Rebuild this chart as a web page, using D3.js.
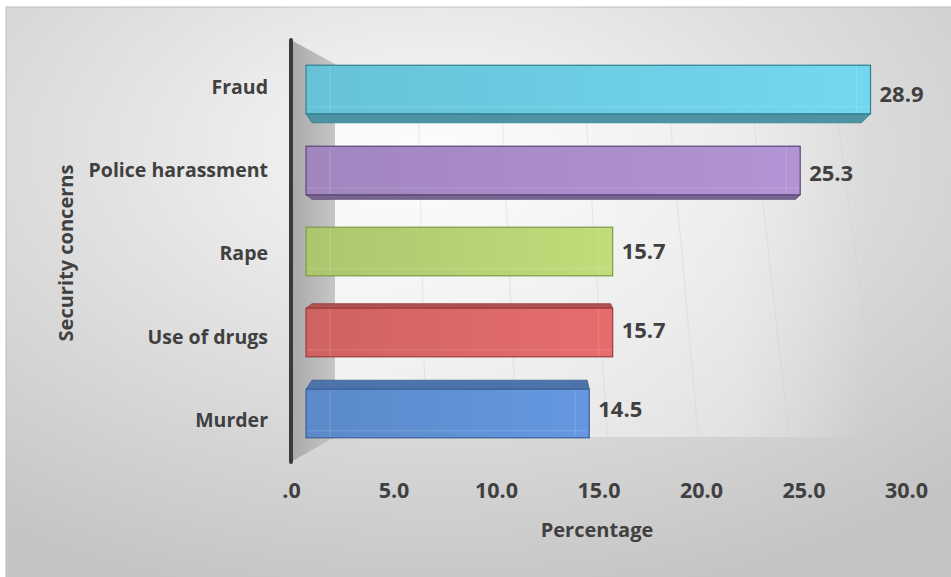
<!doctype html>
<html>
<head>
<meta charset="utf-8">
<title>Security concerns</title>
<script src="https://d3js.org/d3.v7.min.js"></script>
<style>
  body { margin: 0; background: #fff; }
  svg { display: block; }
  text { font-family: "Open Sans", Lato, sans-serif; font-weight: bold; fill: #404040; }
</style>
</head>
<body>
<svg id="chart" width="951" height="577"></svg>
<script>
  // data, top to bottom as drawn
  var categories = ["Fraud", "Police harassment", "Rape", "Use of drugs", "Murder"];
  var percentages = [28.9, 25.3, 15.7, 15.7, 14.5];
  var tickValues = [0, 5, 10, 15, 20, 25, 30];
  var tickLabels = [".0", "5.0", "10.0", "15.0", "20.0", "25.0", "30.0"];

  var faceColors = ["#6ccbe0", "#a88bc7", "#b3cf72", "#d96666", "#5f8fd2"];
  var edgeColors = ["#2f7f8f", "#5b4778", "#7f9a45", "#9c3a3a", "#3a5f98"];

  var svg = d3.select("#chart");
  var defs = svg.append("defs");

  // background
  var bg = defs.append("radialGradient").attr("id", "bg")
    .attr("cx", "45%").attr("cy", "25%").attr("r", "80%");
  bg.append("stop").attr("offset", "0%").attr("stop-color", "#f9f9f9");
  bg.append("stop").attr("offset", "100%").attr("stop-color", "#c4c4c4");
  svg.append("rect")
    .attr("x", 6).attr("y", 7).attr("width", 951).attr("height", 577)
    .attr("fill", "url(#bg)")
    .attr("stroke", "#bdbdbd").attr("stroke-width", 1);

  // scales: front of bars, axis labels, back wall
  var barX = d3.scaleLinear().domain([0, 30]).range([306, 892]);
  var axisX = d3.scaleLinear().domain([0, 30]).range([291, 906]);
  var backTop = d3.scaleLinear().domain([0, 30]).range([335, 830]);
  var backBottom = d3.scaleLinear().domain([0, 30]).range([335, 880]);

  var barY = d3.scaleBand().domain(categories).range([49, 454])
    .paddingInner(0.4).paddingOuter(0.2);
  var labelY = d3.scalePoint().domain(categories).range([86.5, 420]);

  var wallTop = 64, wallBottom = 437;

  // back wall, fading out to the right
  var bw = defs.append("linearGradient").attr("id", "backwall")
    .attr("x1", "0%").attr("x2", "100%");
  bw.append("stop").attr("offset", "0%").attr("stop-color", "#fff").attr("stop-opacity", 0.6);
  bw.append("stop").attr("offset", "75%").attr("stop-color", "#fff").attr("stop-opacity", 0.35);
  bw.append("stop").attr("offset", "100%").attr("stop-color", "#fff").attr("stop-opacity", 0);
  svg.append("rect")
    .attr("x", backTop(0)).attr("y", wallTop)
    .attr("width", backTop(30) - backTop(0) + 40).attr("height", wallBottom - wallTop)
    .attr("fill", "url(#backwall)");

  svg.append("g").selectAll("line")
    .data(tickValues.slice(1))
    .enter().append("line")
    .attr("x1", d => backTop(d)).attr("y1", wallTop)
    .attr("x2", d => backBottom(d)).attr("y2", wallBottom)
    .style("stroke", "#d2d2d2").style("stroke-width", 1.2).style("opacity", 0.4);

  // side wall
  var wg = defs.append("linearGradient").attr("id", "wall")
    .attr("x1", "0%").attr("x2", "100%");
  wg.append("stop").attr("offset", "0%").attr("stop-color", "#a9a9a9");
  wg.append("stop").attr("offset", "100%").attr("stop-color", "#c6c6c6");
  svg.append("path")
    .attr("d", "M291,40 L335," + wallTop + " L335," + wallBottom + " L291,462 Z")
    .attr("fill", "url(#wall)");
  svg.append("line")
    .attr("x1", 291).attr("x2", 291).attr("y1", 40).attr("y2", 462)
    .style("stroke", "#3a3a3a").style("stroke-width", 4)
    .style("stroke-linecap", "round");

  // bars
  svg.selectAll("g.bar")
    .data(categories)
    .enter().append("g")
    .attr("class", "bar")
    .each(function(c, i) {
      var g = d3.select(this);
      var x0 = barX(0), x1 = barX(percentages[i]);
      var y0 = barY(c), h = barY.bandwidth(), y1 = y0 + h;
      var depth = (i - 2) * 4.5;
      var base = d3.color(faceColors[i]);

      var grad = defs.append("linearGradient").attr("id", "face" + i)
        .attr("x1", "0%").attr("x2", "100%");
      grad.append("stop").attr("offset", "0%").attr("stop-color", base.darker(0.12));
      grad.append("stop").attr("offset", "100%").attr("stop-color", base.brighter(0.18));

      if (depth < 0) {
        var d = -depth;
        g.append("path")
          .attr("d", `M${x0},${y1} L${x1},${y1} L${x1 - d},${y1 + d} L${x0 + 6},${y1 + d} Z`)
          .attr("fill", base.darker(0.9))
          .attr("stroke", edgeColors[i]).attr("stroke-width", 0.8);
      } else if (depth > 0) {
        g.append("path")
          .attr("d", `M${x0},${y0} L${x1},${y0} L${x1 - 2},${y0 - depth} L${x0 + 6},${y0 - depth} Z`)
          .attr("fill", base.darker(0.6))
          .attr("stroke", edgeColors[i]).attr("stroke-width", 0.8);
      }

      g.append("rect")
        .attr("x", x0).attr("y", y0)
        .attr("width", x1 - x0).attr("height", h)
        .attr("fill", "url(#face" + i + ")")
        .attr("stroke", edgeColors[i]).attr("stroke-width", 1.2);

      // soft highlights
      g.append("line")
        .attr("x1", x0 + 24).attr("x2", x0 + 24)
        .attr("y1", y0 + 1).attr("y2", y1 - 1)
        .style("stroke", "#ffffff").style("opacity", 0.18);
      g.append("line")
        .attr("x1", x0 + 1).attr("x2", x1 - 1)
        .attr("y1", y1 - 7).attr("y2", y1 - 7)
        .style("stroke", "#ffffff").style("opacity", 0.15);
      g.append("line")
        .attr("x1", x1 - 14).attr("x2", x1 - 14)
        .attr("y1", y0 + 1).attr("y2", y1 - 1)
        .style("stroke", "#ffffff").style("opacity", 0.15);

      g.append("text")
        .attr("x", x1 + 9)
        .attr("y", y0 + h / 2 - depth / 2)
        .attr("dy", "0.36em")
        .style("font-size", "22px")
        .text(percentages[i].toFixed(1));
    });

  // category labels
  svg.append("g").selectAll("text")
    .data(categories)
    .enter().append("text")
    .attr("x", 268)
    .attr("y", d => labelY(d))
    .attr("dy", "0.36em")
    .attr("text-anchor", "end")
    .style("font-size", "19.5px")
    .text(d => d);

  // x axis labels
  var xAxis = d3.axisBottom(axisX)
    .tickValues(tickValues)
    .tickFormat((d, i) => tickLabels[i])
    .tickSize(0)
    .tickPadding(3);
  var axisG = svg.append("g")
    .attr("transform", "translate(0,480)")
    .call(xAxis);
  axisG.select(".domain").remove();
  axisG.selectAll("text")
    .attr("fill", null)
    .style("font-family", "'Open Sans', Lato, sans-serif")
    .style("font-size", "21.5px");

  // axis titles
  svg.append("text")
    .attr("x", 597).attr("y", 530).attr("dy", "0.36em")
    .attr("text-anchor", "middle")
    .style("font-size", "20px")
    .text("Percentage");

  svg.append("text")
    .attr("transform", "translate(66,253) rotate(-90)")
    .attr("dy", "0.36em")
    .attr("text-anchor", "middle")
    .style("font-size", "20px")
    .text("Security concerns");
</script>
</body>
</html>
